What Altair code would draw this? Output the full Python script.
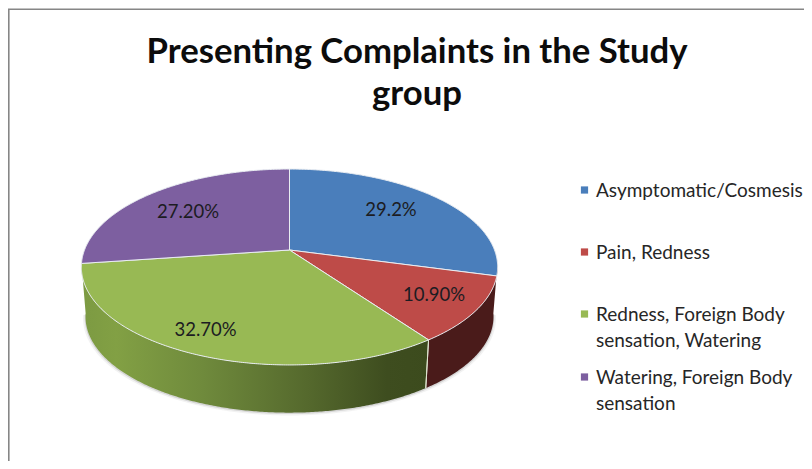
import math
import altair as alt
import pandas as pd

# --- data ---
categories = ["Asymptomatic/Cosmesis", "Pain, Redness",
              "Redness, Foreign Body sensation, Watering",
              "Watering, Foreign Body sensation"]
values = [29.2, 10.9, 32.7, 27.2]
value_labels = ["29.2%", "10.90%", "32.70%", "27.20%"]
colors = ["#4a7ebb", "#be4b48", "#98b954", "#7d5fa0"]
title_lines = ["Presenting Complaints in the Study", "group"]
legend_lines = [["Asymptomatic/Cosmesis"], ["Pain, Redness"],
                ["Redness, Foreign Body", "sensation, Watering"],
                ["Watering, Foreign Body", "sensation"]]

# --- page layout, in chart pixels ---
W, H = 796, 453
OX, OY = 8, 8
CX, CY = 289.5 - OX, 250 - OY
A, B, K = 205, 95, 0.1735
WALL_SCALE, WALL_DROP = 0.98, 50


def proj(deg, scale=1.0, drop=0.0):
    t = math.radians(deg)
    u, v = math.sin(t), -math.cos(t)
    d = 1 - K * v
    return [CX + scale * A * u / d, CY + scale * B * v / d + drop]


def arc(a, b, scale=1.0, drop=0.0):
    n = max(2, int(abs(b - a) * 2))
    return [proj(a + (b - a) * i / n, scale, drop) for i in range(n + 1)]


def feature(points):
    return {"type": "Feature", "properties": {},
            "geometry": {"type": "Polygon", "coordinates": [points + [points[0]]]}}


def shape(points, **mark):
    return (alt.Chart(alt.Data(values=[feature(points)]))
            .mark_geoshape(**mark).project(type="identity", scale=1, translate=[0, 0]))


def grad(stops):
    return alt.LinearGradient(
        gradient="linear", x1=0, x2=1, y1=0, y2=0,
        stops=[alt.GradientStop(offset=o, color=c) for o, c in stops])


# cumulative angles, clockwise from 12 o'clock
edges = [0.0]
for v in values:
    edges.append(edges[-1] + v * 3.6)

layers = []

# soft shadow under the disc
tan_r, tan_l = 98, 262
for grow, drop, op in [(1.012, 1.5, 0.10), (1.004, 1, 0.25)]:
    ring = arc(tan_r, tan_l, WALL_SCALE * grow, WALL_DROP + drop)
    layers.append(shape(ring, fill="#808080", opacity=op, strokeOpacity=0))

# side walls
e1, e2, e3 = edges[1], edges[2], edges[3]
red_wall = arc(tan_r, e2) + arc(e2, tan_r, WALL_SCALE, WALL_DROP)
green_wall = arc(e2, tan_l) + arc(tan_l, e2, WALL_SCALE, WALL_DROP)
layers.append(shape(red_wall, fill="#4a1b1a", strokeOpacity=0))
layers.append(shape(green_wall, strokeOpacity=0, fill=grad([
    (0.0, "#7c9a42"), (0.1, "#82a044"), (0.35, "#6f8a3c"),
    (0.65, "#55692d"), (0.88, "#3e4d1f"), (1.0, "#3c4b1d")])))
j0, j1 = proj(e2), proj(e2, WALL_SCALE, WALL_DROP)
layers.append(shape([j0, j1], filled=False, fillOpacity=0, stroke="#dfe5cf", strokeWidth=1))

# top of the disc
vertex = [CX, CY]
for i, c in enumerate(colors):
    pts = [vertex] + arc(edges[i], edges[i + 1])
    layers.append(shape(pts, fill=c, stroke="#e9edf2", strokeWidth=1))

# chart frame
frame = pd.DataFrame({"x": [0]})
layers.append(alt.Chart(frame).mark_rule(color="#868686", strokeWidth=1.6).encode(
    x=alt.value(0.8), y=alt.value(1.3), y2=alt.value(H)))
layers.append(alt.Chart(frame).mark_rule(color="#868686", strokeWidth=1.6).encode(
    x=alt.value(0), x2=alt.value(W), y=alt.value(1.3)))

# text and legend
FONT = "Lato"
label_pos = [(391, 210), (434, 295), (205.5, 330), (188, 212)]
labels = pd.DataFrame({"t": value_labels,
                       "x": [p[0] - OX for p in label_pos],
                       "y": [p[1] - OY for p in label_pos]})
layers.append(alt.Chart(labels).mark_text(
    font=FONT, fontSize=18.5, color="#1c1c22", align="center", baseline="middle"
).encode(x=alt.X("x:Q", scale=None), y=alt.Y("y:Q", scale=None), text="t:N"))

title_df = pd.DataFrame({"t": title_lines, "x": [417 - OX] * 2, "y": [53 - OY, 95 - OY]})
layers.append(alt.Chart(title_df).mark_text(
    font=FONT, fontSize=34.7, fontWeight="bold", color="#0c0c0c", align="center", baseline="middle"
).encode(x=alt.X("x:Q", scale=None), y=alt.Y("y:Q", scale=None), text="t:N"))

swatch_y = [190, 252, 314, 377]
swatch = pd.DataFrame({"c": colors, "x": [584.5 - OX] * 4, "y": [s - OY for s in swatch_y]})
layers.append(alt.Chart(swatch).mark_square(size=52, opacity=1).encode(
    x=alt.X("x:Q", scale=None), y=alt.Y("y:Q", scale=None),
    color=alt.Color("c:N", scale=None)))

rows = []
for s, lines in zip(swatch_y, legend_lines):
    for j, line in enumerate(lines):
        rows.append({"t": line, "x": 596 - OX, "y": s + 1 + j * 26 - OY})
layers.append(alt.Chart(pd.DataFrame(rows)).mark_text(
    font=FONT, fontSize=19, color="#262626", align="left", baseline="middle"
).encode(x=alt.X("x:Q", scale=None), y=alt.Y("y:Q", scale=None), text="t:N"))

chart = alt.layer(*layers).properties(
    width=W, height=H, padding=0, autosize=alt.AutoSizeParams(type="none"), background="white"
).configure_view(stroke=None)

chart.save("out.html", embed_options={"renderer": "svg", "actions": False})
